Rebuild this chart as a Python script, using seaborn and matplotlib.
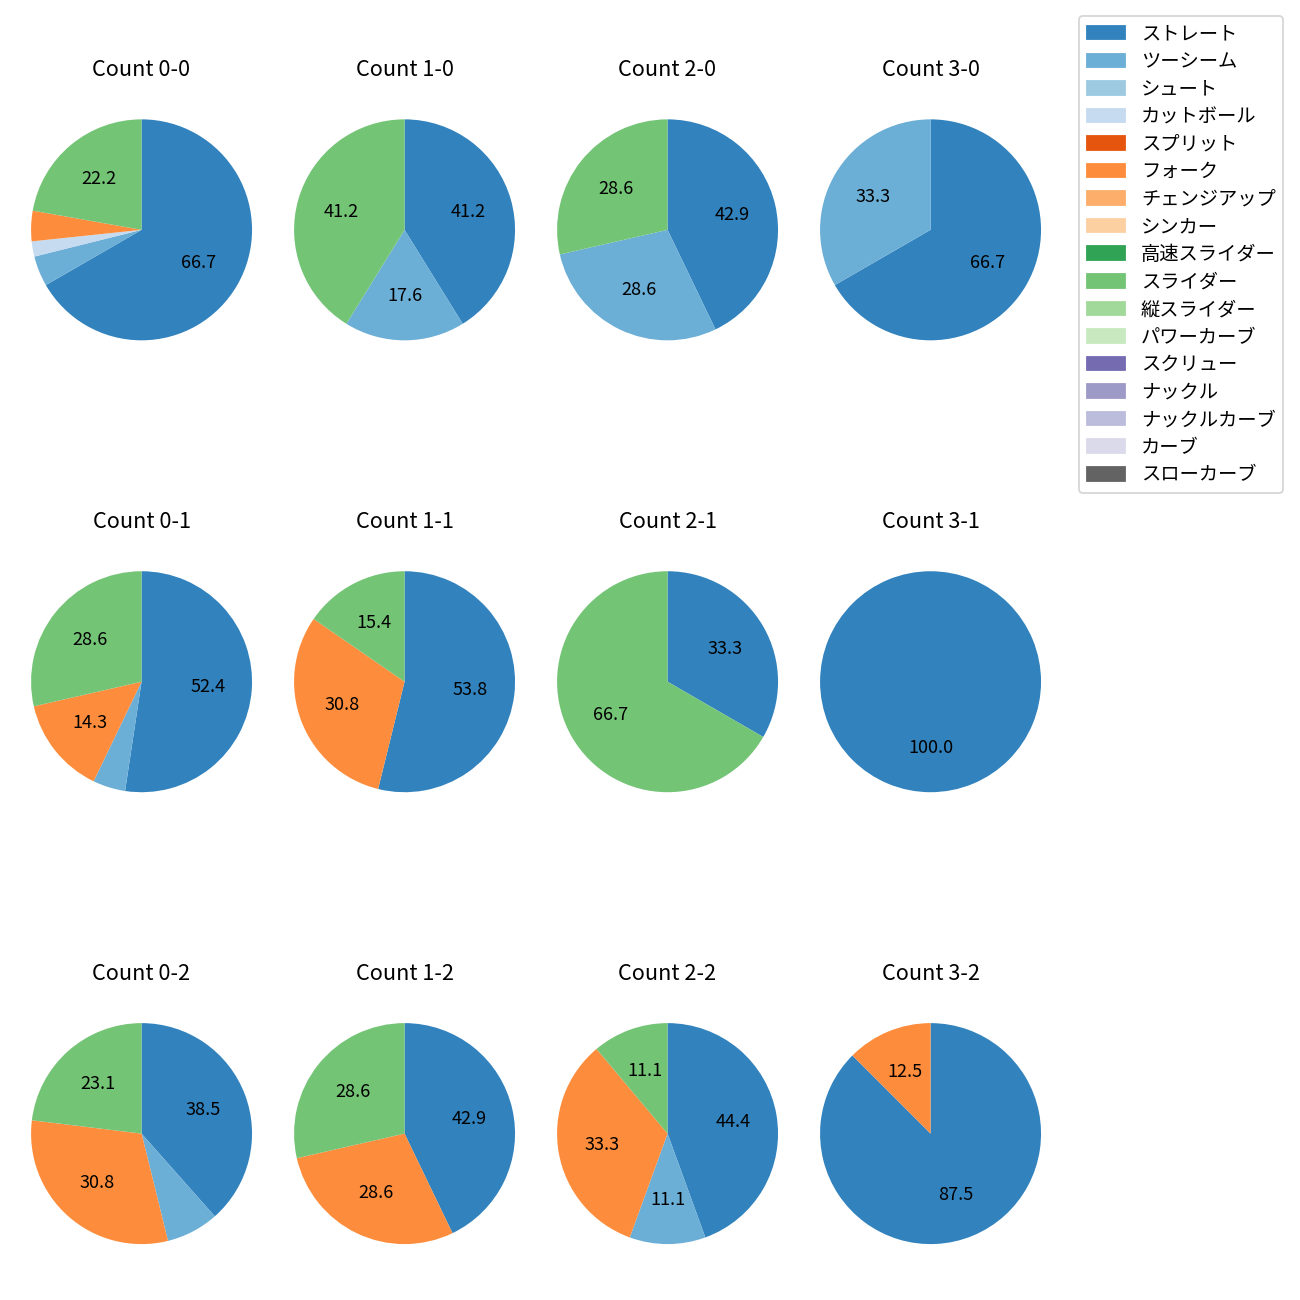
import matplotlib
matplotlib.use('Agg')
import matplotlib.pyplot as plt
import matplotlib.patches as mpatches
import pandas as pd
import seaborn as sns

#pitch types (legend order)
pitch_types = ['ストレート', 'ツーシーム', 'シュート', 'カットボール', 'スプリット', 'フォーク',
               'チェンジアップ', 'シンカー', '高速スライダー', 'スライダー', '縦スライダー',
               'パワーカーブ', 'スクリュー', 'ナックル', 'ナックルカーブ', 'カーブ', 'スローカーブ']

#ball-strike counts, one pie each
counts = ['0-0', '1-0', '2-0', '3-0',
          '0-1', '1-1', '2-1', '3-1',
          '0-2', '1-2', '2-2', '3-2']

#pitches thrown per count
straight = [30, 7, 3, 2, 11, 7, 1, 1, 5, 3, 4, 7]
two_seam = [2, 3, 2, 1, 1, 0, 0, 0, 1, 0, 1, 0]
cutter = [1, 0, 0, 0, 0, 0, 0, 0, 0, 0, 0, 0]
fork = [2, 0, 0, 0, 3, 4, 0, 0, 4, 2, 3, 1]
slider = [10, 7, 2, 0, 6, 2, 2, 0, 3, 2, 1, 0]

plt.rcParams['font.family'] = ['Noto Sans CJK JP', 'DejaVu Sans']

df = pd.DataFrame(0, index=counts, columns=pitch_types)
df['ストレート'] = straight
df['ツーシーム'] = two_seam
df['カットボール'] = cutter
df['フォーク'] = fork
df['スライダー'] = slider

palette = sns.color_palette('tab20c', len(pitch_types))
color_map = dict(zip(pitch_types, palette))

fig, axes = plt.subplots(3, 4, figsize=(10, 10))
for ax, cnt in zip(axes.flat, counts):
    row = df.loc[cnt]
    row = row[row > 0]
    ax.pie(row.values, colors=[color_map[p] for p in row.index],
           startangle=90, counterclock=False,
           autopct=lambda p: f'{p:.1f}' if p >= 10 else '')
    ax.set_title(f'Count {cnt}')
    ax.axis('equal')

fig.subplots_adjust(left=0.0154, right=0.8093, bottom=0.018, top=0.9332,
                    wspace=0.082, hspace=0.58)

#legend with every pitch type
handles = [mpatches.Patch(color=color_map[p], label=p) for p in pitch_types]
fig.legend(handles=handles, loc='upper right', bbox_to_anchor=(0.9872, 0.9879),
           borderaxespad=0, fontsize=10.7, labelspacing=0.34)

plt.savefig('out.png', dpi=130)
